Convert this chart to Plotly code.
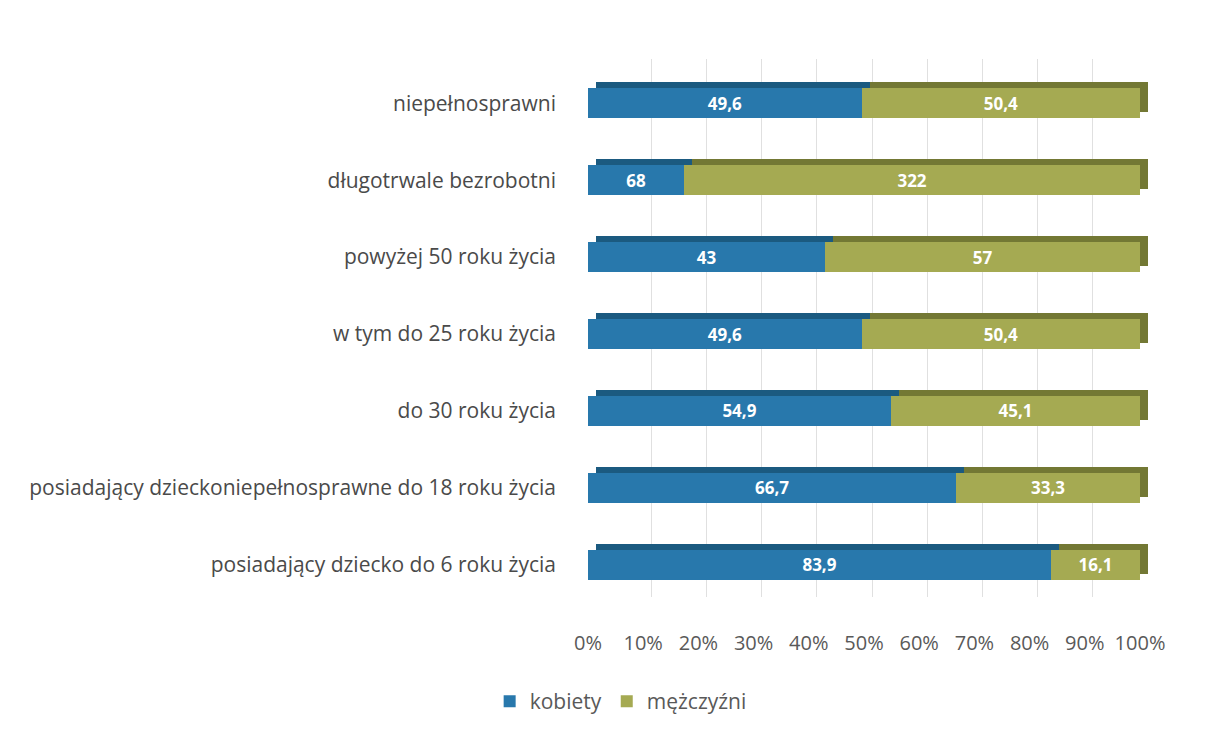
import plotly.graph_objects as go

categories = [
    "niepełnosprawni",
    "długotrwale bezrobotni",
    "powyżej 50 roku życia",
    "w tym do 25 roku życia",
    "do 30 roku życia",
    "posiadający dzieckoniepełnosprawne do 18 roku życia",
    "posiadający dziecko do 6 roku życia",
]
kobiety = [49.6, 68, 43, 49.6, 54.9, 66.7, 83.9]
mezczyzni = [50.4, 322, 57, 50.4, 45.1, 33.3, 16.1]
tick_vals = [0, 10, 20, 30, 40, 50, 60, 70, 80, 90, 100]
tick_text = [f"{v}%" for v in tick_vals]

def fmt(v):
    return (f"{v:g}").replace(".", ",")

BLUE = "#2878ac"
GREEN = "#a5aa52"
BLUE_DARK = "#1b5a80"
GREEN_DARK = "#737834"

W, H = 1218, 730
L, R, T, B = 580, 78, 51, 135
pw = W - L - R
ph = H - T - B
dx, dy = 8, 6

fig = go.Figure()
# back (depth) faces on subplot 1 (drawn first)
for vals, col, name in [(kobiety, BLUE_DARK, "kobiety"), (mezczyzni, GREEN_DARK, "mężczyźni")]:
    fig.add_trace(go.Bar(y=categories, x=vals, orientation="h", marker=dict(color=col, line=dict(width=0)),
                         xaxis="x", yaxis="y", showlegend=False, hoverinfo="skip", name=name))
# front faces on subplot 2 (drawn on top)
for vals, col, name in [(kobiety, BLUE, "kobiety"), (mezczyzni, GREEN, "mężczyźni")]:
    fig.add_trace(go.Bar(y=categories, x=vals, orientation="h", name=name,
                         marker=dict(color=col, line=dict(width=0)),
                         text=[fmt(v) for v in vals], texttemplate="%{text}",
                         textposition="inside", insidetextanchor="middle",
                         textfont=dict(family="Open Sans", size=17, color="white", weight="bold"),
                         xaxis="x2", yaxis="y2"))

fig.update_layout(
    width=W, height=H,
    barmode="stack", barnorm="percent", bargap=0.61,
    margin=dict(l=L, r=R, t=T, b=B, autoexpand=False),
    paper_bgcolor="white", plot_bgcolor="rgba(0,0,0,0)",
    font=dict(family="Open Sans", color="#595959", size=20),
    xaxis=dict(domain=[dx / pw, 1], range=[0, 100], anchor="y", tickvals=tick_vals, automargin=False,
               showticklabels=False, ticks="", showline=False, zeroline=False,
               showgrid=True, gridcolor="#e0e0e0", gridwidth=1),
    yaxis=dict(domain=[dy / ph, 1], autorange="reversed", anchor="x", showticklabels=False, automargin=False,
               ticks="", showgrid=False, showline=False, zeroline=False),
    xaxis2=dict(domain=[0, (pw - dx) / pw], range=[0, 100], tickvals=tick_vals, ticktext=tick_text,
                anchor="y2", side="bottom", automargin=False,
                showgrid=False, zeroline=False, showline=False,
                ticks="", ticklabelstandoff=26, tickfont=dict(size=20, color="#595959")),
    yaxis2=dict(domain=[0, (ph - dy) / ph], autorange="reversed", anchor="x2", side="left", automargin=False,
                showgrid=False, showline=False, zeroline=False,
                ticks="", ticklabelstandoff=31, tickfont=dict(size=21, color="#4a4a4a")),
    legend=dict(orientation="h", xref="container", yref="container", x=0.503, y=0.05,
                xanchor="center", yanchor="middle", font=dict(size=21, color="#595959"),
                traceorder="normal", itemwidth=30),
    showlegend=True,
)

fig.write_html("out.html")
